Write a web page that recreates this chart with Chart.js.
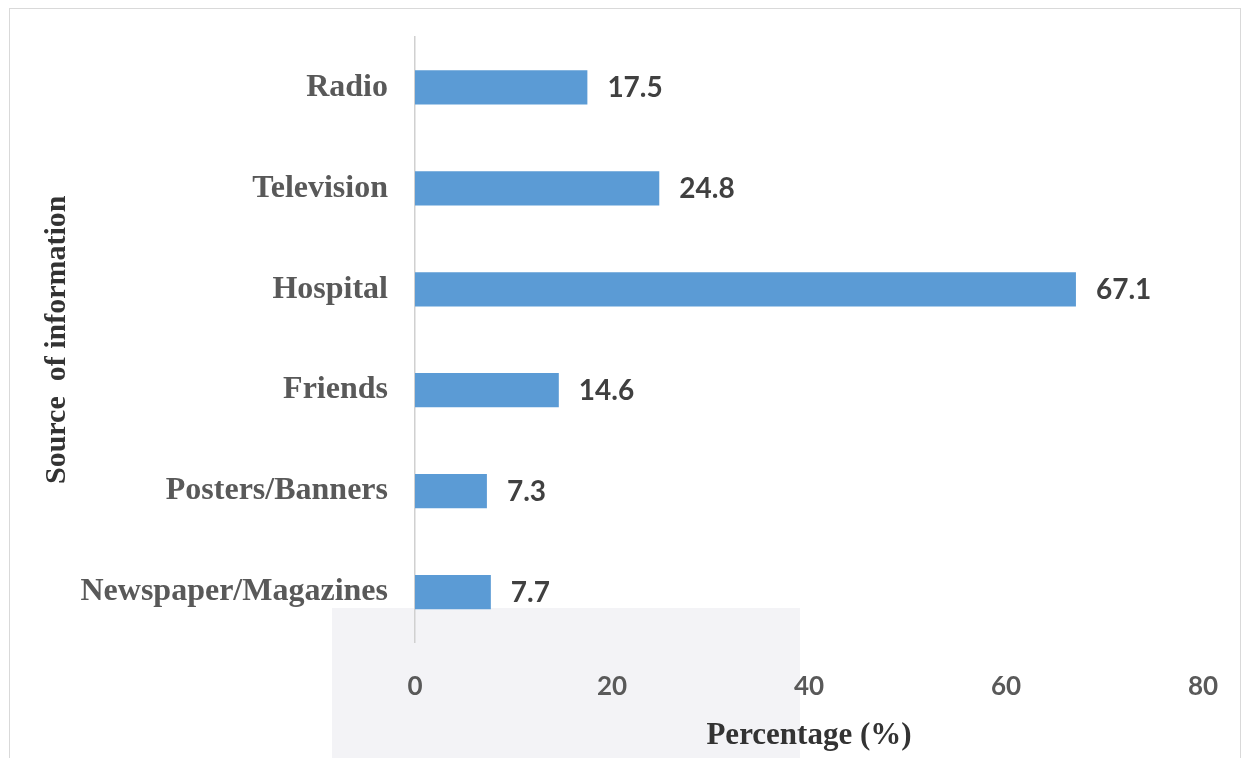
<!DOCTYPE html>
<html>
<head>
<meta charset="utf-8">
<script src="https://cdn.jsdelivr.net/npm/chart.js@4"></script>
<style>
  html, body { margin: 0; padding: 0; background: #ffffff; }
  #wrap { position: relative; width: 1248px; height: 758px; }
  #frame { position: absolute; left: 9px; top: 8px; width: 1232px; height: 760px; border: 1.5px solid #d9d9d9; box-sizing: border-box; pointer-events: none; }
</style>
</head>
<body>
<div id="wrap">
  <canvas id="c" width="1248" height="758"></canvas>
  <div id="frame"></div>
</div>
<script>
const categories = ["Radio", "Television", "Hospital", "Friends", "Posters/Banners", "Newspaper/Magazines"];
const percentages = [17.5, 24.8, 67.1, 14.6, 7.3, 7.7];
const xTicks = [0, 20, 40, 60, 80];

const bgPlugin = {
  id: 'bg',
  beforeDraw(chart) {
    const ctx = chart.ctx;
    ctx.save();
    ctx.fillStyle = '#f3f3f6';
    ctx.fillRect(332, 608, 468, 150);
    ctx.restore();
  }
};

const valueLabels = {
  id: 'valueLabels',
  afterDatasetsDraw(chart) {
    const ctx = chart.ctx;
    const meta = chart.getDatasetMeta(0);
    ctx.save();
    ctx.font = 'bold 28px Lato';
    ctx.fillStyle = '#404040';
    ctx.textAlign = 'left';
    ctx.textBaseline = 'middle';
    meta.data.forEach((bar, i) => {
      ctx.fillText(String(chart.data.datasets[0].data[i]), bar.x + 20, bar.y + 1);
    });
    ctx.restore();
  }
};

new Chart(document.getElementById('c'), {
  type: 'bar',
  data: {
    labels: categories,
    datasets: [{
      data: percentages,
      backgroundColor: '#5b9bd5',
      borderWidth: 0,
      categoryPercentage: 1.0,
      barPercentage: 0.34
    }]
  },
  options: {
    indexAxis: 'y',
    responsive: false,
    animation: false,
    devicePixelRatio: 1,
    layout: { padding: { left: 10, top: 37, right: 45, bottom: 0 } },
    plugins: { legend: { display: false }, tooltip: { enabled: false } },
    scales: {
      x: {
        min: 0, max: 80,
        afterBuildTicks(scale) { scale.ticks = xTicks.map(v => ({ value: v })); },
        afterFit(scale) { scale.height = 115.5; },
        grid: { display: false, drawTicks: false },
        border: { display: false },
        ticks: { color: '#595959', font: { family: 'Lato', weight: 'bold', size: 26 }, padding: 29 },
        title: {
          display: true, text: 'Percentage (%)', color: '#333333',
          font: { family: 'Liberation Serif', weight: 'bold', size: 31 },
          padding: { top: 0, bottom: 3 }
        }
      },
      y: {
        afterFit(scale) { scale.width = 405; scale.paddingTop = 0; scale.paddingBottom = 0; },
        grid: { display: false, drawTicks: false },
        border: { display: true, color: '#d0d0d0', width: 1.5 },
        ticks: { color: '#595959', font: { family: 'Liberation Serif', weight: 'bold', size: 32 }, padding: 27 },
        title: {
          display: true, text: 'Source  of information', color: '#333333',
          font: { family: 'Liberation Serif', weight: 'bold', size: 30 },
          padding: { top: 29, bottom: 0 }
        }
      }
    }
  },
  plugins: [bgPlugin, valueLabels]
});
</script>
</body>
</html>
